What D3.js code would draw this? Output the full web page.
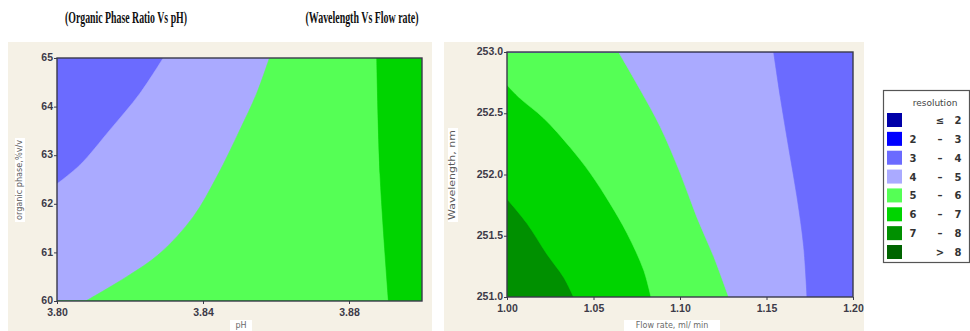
<!DOCTYPE html>
<html>
<head>
<meta charset="utf-8">
<script src="https://cdn.jsdelivr.net/npm/d3@7/dist/d3.min.js"></script>
<style>
  html, body { margin: 0; padding: 0; background: #ffffff; }
  svg { display: block; }
</style>
</head>
<body>
<svg id="chart" width="970" height="331"></svg>
<script>
// Resolution bands, their colours and the legend rows
const bandLabels = [["", "\u2264", "2"], ["2", "\u2013", "3"], ["3", "\u2013", "4"], ["4", "\u2013", "5"],
                    ["5", "\u2013", "6"], ["6", "\u2013", "7"], ["7", "\u2013", "8"], ["", ">", "8"]];
const bandColors = ["#0000a8", "#0000ff", "#6b6bff", "#aaaaff", "#55ff55", "#00d400", "#009000", "#006400"];

// Panel 1: organic phase ratio (%v/v) vs pH
const phDomain = [3.80, 3.90];
const phTicks = [3.80, 3.84, 3.88];
const organicDomain = [60, 65];
const organicTicks = [60, 61, 62, 63, 64, 65];
const leftBaseBand = 2; // band index of the upper-left corner (3 - 4)
// contour boundaries; each opens the next band: [pH, organic %]
const leftContours = [
  { band: 3, points: [[3.800, 62.41], [3.8063, 62.80], [3.8145, 63.52], [3.8227, 64.27], [3.8291, 65.00]] },
  { band: 4, points: [[3.8079, 60.00], [3.8191, 60.50], [3.8282, 60.98], [3.8373, 61.73], [3.8438, 62.56],
                      [3.8501, 63.52], [3.8547, 64.27], [3.8582, 65.00]] },
  { band: 5, points: [[3.8908, 60.00], [3.8885, 62.60], [3.8876, 65.00]] }
];

// Panel 2: wavelength (nm) vs flow rate (ml/min)
const flowDomain = [1.00, 1.20];
const flowTicks = [1.00, 1.05, 1.10, 1.15, 1.20];
const waveDomain = [251.0, 253.0];
const waveTicks = [251.0, 251.5, 252.0, 252.5, 253.0];
const rightBaseBand = 6; // band index of the lower-left corner (7 - 8)
const rightContours = [
  { band: 5, points: [[1.000, 251.80], [1.0116, 251.60], [1.0231, 251.35], [1.0328, 251.16], [1.0385, 251.00]] },
  { band: 4, points: [[1.000, 252.73], [1.0077, 252.62], [1.0212, 252.46], [1.0366, 252.22], [1.0482, 252.01],
                      [1.0597, 251.76], [1.0694, 251.52], [1.079, 251.22], [1.0832, 251.00]] },
  { band: 3, points: [[1.0645, 253.00], [1.0771, 252.69], [1.0886, 252.39], [1.1002, 252.01], [1.1098, 251.65],
                      [1.1195, 251.33], [1.1281, 251.00]] },
  { band: 2, points: [[1.1541, 253.00], [1.158, 252.63], [1.1628, 252.22], [1.1676, 251.82], [1.1715, 251.41],
                      [1.1734, 251.00]] }
];

const svg = d3.select("#chart");
const panelBg = "#f5f1e6";
const tickColor = "#3c3a48";

function drawPanel(cfg) {
  const g = svg.append("g");
  g.append("rect").attr("x", cfg.bg[0]).attr("y", cfg.bg[1]).attr("width", cfg.bg[2]).attr("height", cfg.bg[3])
    .attr("fill", panelBg);

  const x = d3.scaleLinear().domain(cfg.xDomain).range([cfg.plot.left, cfg.plot.right]);
  const y = d3.scaleLinear().domain(cfg.yDomain).range([cfg.plot.bottom, cfg.plot.top]);

  const clipId = "clip-" + cfg.id;
  g.append("clipPath").attr("id", clipId).append("rect")
    .attr("x", cfg.plot.left).attr("y", cfg.plot.top)
    .attr("width", cfg.plot.right - cfg.plot.left).attr("height", cfg.plot.bottom - cfg.plot.top);

  const area = g.append("g").attr("clip-path", `url(#${clipId})`);
  area.append("rect")
    .attr("x", cfg.plot.left).attr("y", cfg.plot.top)
    .attr("width", cfg.plot.right - cfg.plot.left).attr("height", cfg.plot.bottom - cfg.plot.top)
    .attr("fill", bandColors[cfg.baseBand]);

  const curve = d3.line().x(d => x(d[0])).y(d => y(d[1])).curve(d3.curveCatmullRom.alpha(0.5));
  const [x0, x1] = cfg.xDomain, [y0, y1] = cfg.yDomain;
  cfg.contours.forEach(c => {
    // region beyond the boundary, closed around the far corners of the domain
    const corners = cfg.closeToward === "topRight"
      ? [[x1, y1], [x1, y0], [x0, y0]]
      : [[x1, y0], [x1, y1], [x0, y1]];
    const d = curve(c.points) + corners.map(p => `L${x(p[0])},${y(p[1])}`).join("") + "Z";
    area.append("path").attr("d", d).attr("fill", bandColors[c.band])
      .attr("stroke", bandColors[c.band]).attr("stroke-width", 0.6);
  });

  // frame
  g.append("rect")
    .attr("x", cfg.plot.left).attr("y", cfg.plot.top)
    .attr("width", cfg.plot.right - cfg.plot.left).attr("height", cfg.plot.bottom - cfg.plot.top)
    .attr("fill", "none").attr("stroke", "#3a3a4a").attr("stroke-width", 1.4);

  const xAxis = g.append("g").attr("transform", `translate(0,${cfg.plot.bottom})`)
    .call(d3.axisBottom(x).tickValues(cfg.xTicks).tickFormat(cfg.xFormat).tickSize(3).tickPadding(1));
  const yAxis = g.append("g").attr("transform", `translate(${cfg.plot.left},0)`)
    .call(d3.axisLeft(y).tickValues(cfg.yTicks).tickFormat(cfg.yFormat).tickSize(3).tickPadding(1));
  [xAxis, yAxis].forEach(a => {
    a.select(".domain").remove();
    a.selectAll("line").attr("stroke", "#3a3a4a");
    a.selectAll("text").attr("fill", tickColor)
      .style("font-family", "'Liberation Sans', Arial, sans-serif")
      .style("font-size", "10.5px").style("font-weight", "bold");
  });
  xAxis.selectAll("text").attr("dy", "1em");
  yAxis.selectAll("text").attr("dy", "0.25em");

  // axis titles on white label boxes
  const xl = cfg.xLabel;
  g.append("rect").attr("x", xl.x - xl.w / 2).attr("y", xl.y - 8).attr("width", xl.w).attr("height", 11).attr("fill", "#ffffff");
  g.append("text").attr("x", xl.x).attr("y", xl.y).attr("text-anchor", "middle")
    .style("font-family", "'DejaVu Sans', sans-serif").style("font-size", "8px").attr("fill", "#6a6a6a").text(xl.text);

  const yl = cfg.yLabel;
  const yg = g.append("g").attr("transform", `translate(${yl.x},${yl.y}) rotate(-90)`);
  yg.append("rect").attr("x", -yl.w / 2).attr("y", -7).attr("width", yl.w).attr("height", 10).attr("fill", "#ffffff");
  yg.append("text").attr("x", 0).attr("y", 0).attr("text-anchor", "middle")
    .attr("textLength", yl.w - 4).attr("lengthAdjust", "spacingAndGlyphs")
    .style("font-family", "'DejaVu Sans', sans-serif").style("font-size", "8px").attr("fill", "#5a5a5a").text(yl.text);

  // title
  svg.append("text").attr("x", cfg.title.x).attr("y", 23).attr("text-anchor", "middle")
    .attr("textLength", cfg.title.w).attr("lengthAdjust", "spacingAndGlyphs")
    .style("font-family", "'Liberation Serif', 'Times New Roman', serif").style("font-size", "16px")
    .style("font-weight", "bold").attr("fill", "#111").text(cfg.title.text);
}

drawPanel({
  id: "left",
  bg: [8, 42, 424, 289],
  plot: { left: 57, right: 422, top: 58, bottom: 301 },
  xDomain: phDomain, yDomain: organicDomain, xTicks: phTicks, yTicks: organicTicks,
  xFormat: d3.format(".2f"), yFormat: d3.format("d"),
  baseBand: leftBaseBand, contours: leftContours, closeToward: "topRight",
  xLabel: { x: 241, y: 328, w: 22, text: "pH" },
  yLabel: { x: 22, y: 180, w: 84, text: "organic phase,%v/v" },
  title: { x: 126, w: 122, text: "(Organic Phase Ratio Vs pH)" }
});

drawPanel({
  id: "right",
  bg: [444, 42, 420, 289],
  plot: { left: 507, right: 853, top: 52, bottom: 297 },
  xDomain: flowDomain, yDomain: waveDomain, xTicks: flowTicks, yTicks: waveTicks,
  xFormat: d3.format(".2f"), yFormat: d3.format(".1f"),
  baseBand: rightBaseBand, contours: rightContours, closeToward: "bottomRight",
  xLabel: { x: 672, y: 328, w: 96, text: "Flow rate, ml/ min" },
  yLabel: { x: 455, y: 175, w: 94, text: "Wavelength, nm" },
  title: { x: 362, w: 113, text: "(Wavelength Vs Flow rate)" }
});

// legend
const legend = svg.append("g");
legend.append("rect").attr("x", 883.5).attr("y", 90.5).attr("width", 86).attr("height", 172)
  .attr("fill", "#ffffff").attr("stroke", "#555").attr("stroke-width", 1.2);
legend.append("text").attr("x", 935).attr("y", 106).attr("text-anchor", "middle")
  .style("font-family", "'DejaVu Sans', sans-serif").style("font-size", "9px").attr("fill", "#444").text("resolution");
const rowY = d3.scaleLinear().domain([0, 7]).range([120, 252]);
bandLabels.forEach((lab, i) => {
  const cy = rowY(i);
  legend.append("rect").attr("x", 887).attr("y", cy - 7).attr("width", 15).attr("height", 14)
    .attr("fill", bandColors[i]);
  const cols = [913, 940, 958];
  lab.forEach((t, j) => {
    legend.append("text").attr("x", cols[j]).attr("y", cy + 4).attr("text-anchor", "middle")
      .style("font-family", "'DejaVu Sans', sans-serif").style("font-size", "10px").style("font-weight", "bold")
      .attr("fill", "#333").text(t);
  });
});
</script>
</body>
</html>
